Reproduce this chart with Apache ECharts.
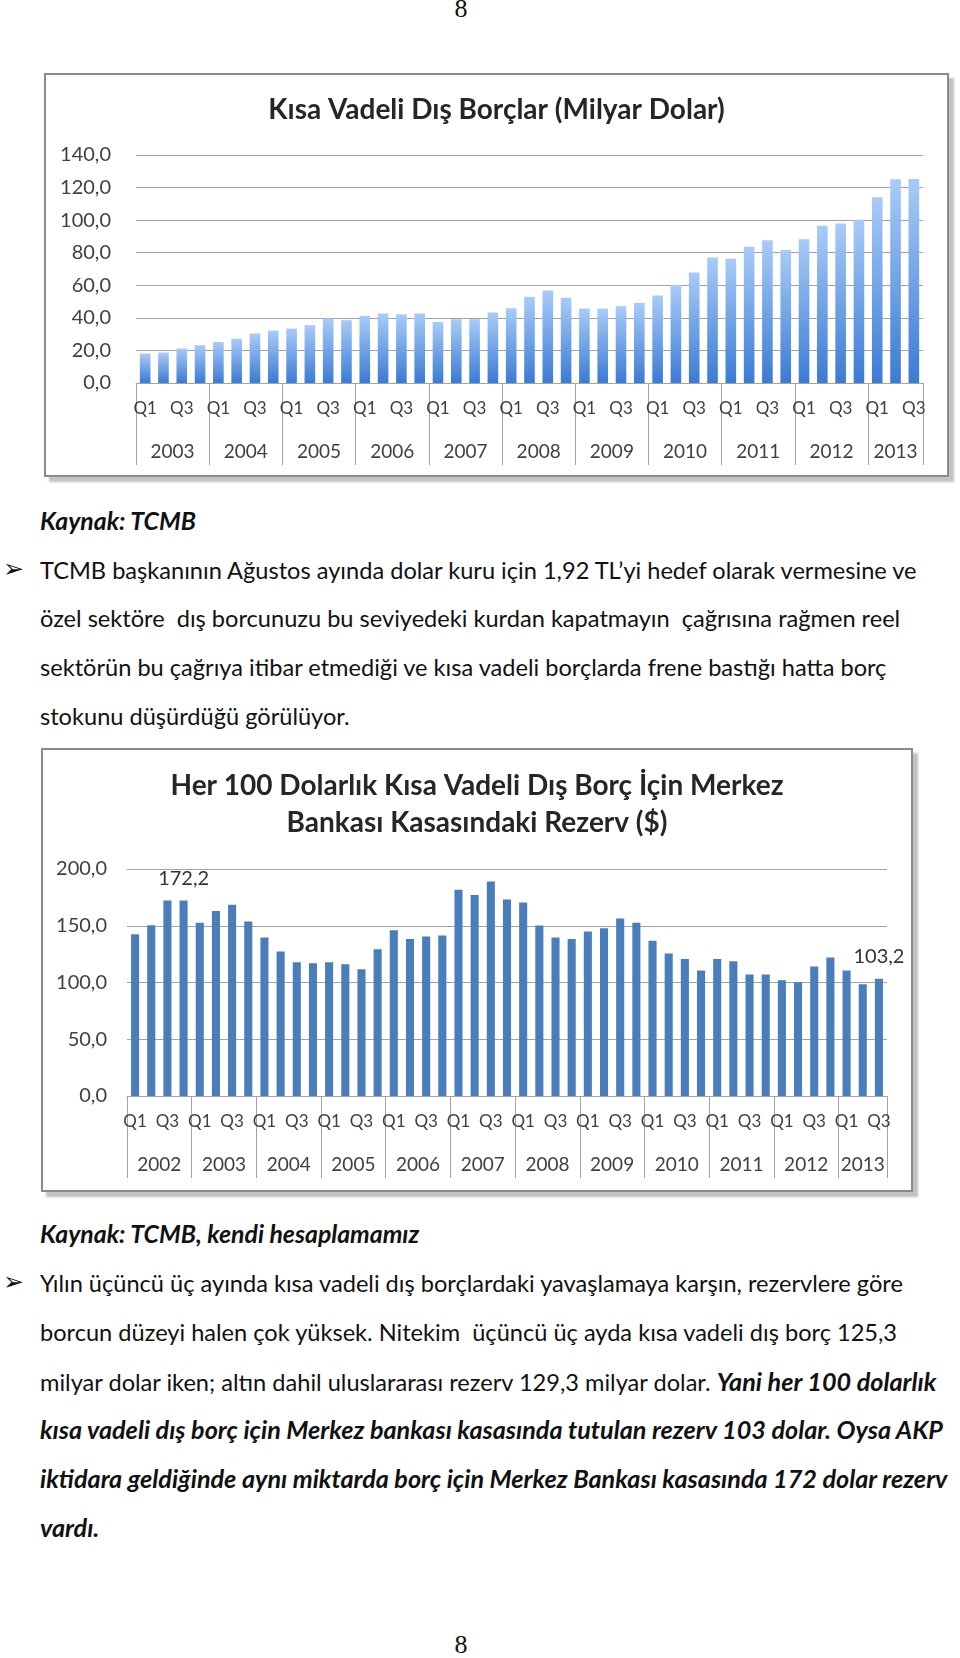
<!DOCTYPE html>
<html lang="tr">
<head>
<meta charset="utf-8">
<title>Kısa Vadeli Dış Borçlar</title>
<script src="https://cdn.jsdelivr.net/npm/echarts@6/dist/echarts.min.js"></script>
<style>
  html, body { margin: 0; padding: 0; background: #fff; }
  .page { position: relative; width: 960px; height: 1658px; overflow: hidden; font-family: Lato, "Noto Sans", sans-serif; color: #111; }
  .pno { position: absolute; left: 0; width: 922px; text-align: center; font-family: "Liberation Serif", "DejaVu Serif", serif; font-size: 26px; line-height: 30px; }
  .line { position: absolute; left: 40px; white-space: nowrap; font-size: 23.6px; line-height: 30px; }
  .src { font-weight: bold; font-style: italic; font-size: 24.8px; }
  .bi { font-weight: bold; font-style: italic; font-size: 25.2px; }
  .bullet { position: absolute; left: 3px; font-family: "DejaVu Sans", sans-serif; font-size: 25px; line-height: 30px; }
  .frame { position: absolute; box-sizing: border-box; border: 2px solid #8a8a8a; background: #fff;
           box-shadow: 5px 5px 2px rgba(120, 120, 120, 0.45); }
  .frame > div { width: 100%; height: 100%; }
</style>
</head>
<body>
<div class="page">
  <div class="pno" style="top:-6px">8</div>

  <div class="frame" style="left:44px; top:73px; width:905px; height:404px"><div id="debt"></div></div>

  <div class="line src" style="top:506px">Kaynak: TCMB</div>
  <div class="bullet" style="top:554px">➢</div>
  <div class="line" style="top:555px">TCMB başkanının Ağustos ayında dolar kuru için 1,92 TL’yi hedef olarak vermesine ve</div>
  <div class="line" style="top:603px">özel sektöre &nbsp;dış borcunuzu bu seviyedeki kurdan kapatmayın &nbsp;çağrısına rağmen reel</div>
  <div class="line" style="top:652px">sektörün bu çağrıya itibar etmediği ve kısa vadeli borçlarda frene bastığı hatta borç</div>
  <div class="line" style="top:701px">stokunu düşürdüğü görülüyor.</div>

  <div class="frame" style="left:41px; top:748px; width:872px; height:444px"><div id="reserve"></div></div>

  <div class="line src" style="top:1219px">Kaynak: TCMB, kendi hesaplamamız</div>
  <div class="bullet" style="top:1267px">➢</div>
  <div class="line" style="top:1268px">Yılın üçüncü üç ayında kısa vadeli dış borçlardaki yavaşlamaya karşın, rezervlere göre</div>
  <div class="line" style="top:1317px">borcun düzeyi halen çok yüksek. Nitekim &nbsp;üçüncü üç ayda kısa vadeli dış borç 125,3</div>
  <div class="line" style="top:1366px">milyar dolar iken; altın dahil uluslararası rezerv 129,3 milyar dolar. <span class="bi">Yani her 100 dolarlık</span></div>
  <div class="line bi" style="top:1414px">kısa vadeli dış borç için Merkez bankası kasasında tutulan rezerv 103 dolar. Oysa AKP</div>
  <div class="line bi" style="top:1463px">iktidara geldiğinde aynı miktarda borç için Merkez Bankası kasasında 172 dolar rezerv</div>
  <div class="line bi" style="top:1512px">vardı.</div>

  <div class="pno" style="top:1630px">8</div>
</div>

<script>
// Kısa vadeli dış borçlar (milyar dolar), 2003Q1 - 2013Q3
const debtYears = ['2003', '2004', '2005', '2006', '2007', '2008', '2009', '2010', '2011', '2012', '2013']
const debtValues = [
  18.1, 18.7, 21.2, 23.2,
  25.2, 27.1, 30.4, 32.2,
  33.4, 35.5, 39.6, 38.6,
  41.2, 42.7, 42.1, 42.7,
  37.5, 39.2, 39.2, 43.3,
  45.9, 52.9, 56.8, 52.3,
  45.7, 45.7, 47.2, 49.2,
  53.7, 60.1, 67.9, 77.1,
  76.3, 83.6, 87.6, 81.6,
  88.2, 96.6, 98.0, 100.3,
  114.0, 125.1, 125.3
]
const debtTicks = [0, 20, 40, 60, 80, 100, 120, 140]

// Her 100 dolarlık kısa vadeli borç için rezerv ($), 2002Q1 - 2013Q3
const reserveYears = ['2002', '2003', '2004', '2005', '2006', '2007', '2008', '2009', '2010', '2011', '2012', '2013']
const reserveValues = [
  142.6, 150.5, 172.2, 172.2,
  152.6, 162.9, 168.4, 153.7,
  139.6, 127.3, 117.9, 117.0,
  117.9, 116.1, 111.7, 129.4,
  146.1, 138.4, 140.5, 141.4,
  181.7, 177.0, 189.0, 173.1,
  170.5, 150.2, 139.6, 138.4,
  144.9, 147.9, 156.4, 152.6,
  136.7, 125.5, 120.8, 110.5,
  120.8, 118.8, 107.0, 107.0,
  102.0, 100.3, 114.0, 122.0,
  110.5, 98.5, 103.2
]
const reserveTicks = [0, 50, 100, 150, 200]
const reserveLabeled = [3, 46]   // 172,2 ve 103,2 etiketleri

const quarterNames = ['Q1', 'Q2', 'Q3', 'Q4']
const txt = '#404040'
const grid = '#a3a3a3'

function fmt(v) {
  return v.toFixed(1).replace('.', ',')
}

// yıl x çeyrek kategorileri
function buildCats(years, total) {
  const cats = []
  const starts = []
  const centers = []
  years.forEach((y) => {
    const n = Math.min(4, total - cats.length)
    starts.push(cats.length)
    centers.push(cats.length + n / 2)
    for (let q = 0; q < n; q++) cats.push(quarterNames[q])
  })
  return { cats, starts, centers }
}

function makeOption(o) {
  const c = buildCats(o.years, o.values.length)
  return {
    animation: false,
    title: {
      text: o.title,
      left: 'center',
      top: o.titleTop,
      padding: 0,
      textStyle: { fontFamily: 'Lato', fontWeight: 'bold', fontSize: 28, lineHeight: 37, color: '#262626' },
    },
    grid: o.grid,
    xAxis: [
      {
        type: 'category',
        data: c.cats,
        axisLine: { show: true, lineStyle: { color: grid, width: 1 } },
        // yıl ayraçları
        axisTick: {
          show: true,
          interval: (i) => c.starts.indexOf(i) >= 0,
          length: 82,
          lineStyle: { color: grid, width: 1 },
        },
        axisLabel: {
          interval: (i) => i % 2 === 0,
          margin: 17,
          color: txt,
          fontFamily: 'Lato',
          fontSize: 17,
        },
      },
      {
        // yıl etiketleri, grup ortasında
        type: 'value',
        position: 'bottom',
        min: 0,
        max: c.cats.length,
        interval: 0.5,
        axisLine: { show: false },
        axisTick: { show: false },
        splitLine: { show: false },
        axisLabel: {
          margin: 59,
          color: txt,
          fontFamily: 'Lato',
          fontSize: 19,
          showMinLabel: true,
          showMaxLabel: true,
          formatter: (v) => {
            const k = c.centers.findIndex((m) => Math.abs(m - v) < 0.01)
            return k >= 0 ? o.years[k] : ''
          },
        },
      },
    ],
    yAxis: {
      type: 'value',
      min: o.ticks[0],
      max: o.ticks[o.ticks.length - 1],
      interval: o.ticks[1] - o.ticks[0],
      axisLine: { show: false },
      axisTick: { show: false },
      splitLine: { lineStyle: { color: grid, width: 1 } },
      axisLabel: { margin: o.yMargin, color: txt, fontFamily: 'Lato', fontSize: 20, formatter: fmt },
    },
    series: [
      {
        type: 'bar',
        xAxisIndex: 0,
        barCategoryGap: o.gap,
        data: o.values.map((v, i) => ({
          value: v,
          label: { show: (o.labeled || []).indexOf(i) >= 0 },
        })),
        itemStyle: { color: o.color },
        label: {
          show: false,
          position: 'top',
          distance: 12,
          color: '#333',
          fontFamily: 'Lato',
          fontSize: 20,
          formatter: (p) => fmt(p.value),
        },
      },
    ],
  }
}

const debtChart = echarts.init(document.getElementById('debt'))
debtChart.setOption(makeOption({
  title: 'Kısa Vadeli Dış Borçlar (Milyar Dolar)',
  titleTop: 16,
  years: debtYears,
  values: debtValues,
  ticks: debtTicks,
  grid: { left: 90, right: 24, top: 80, bottom: 92 },
  yMargin: 25,
  gap: '42%',
  color: {
    type: 'linear', x: 0, y: 0, x2: 0, y2: 1,
    colorStops: [
      { offset: 0, color: '#a9cbf8' },
      { offset: 1, color: '#3a7bd4' },
    ],
  },
}))

const reserveChart = echarts.init(document.getElementById('reserve'))
reserveChart.setOption(makeOption({
  title: 'Her 100 Dolarlık Kısa Vadeli Dış Borç İçin Merkez\nBankası Kasasındaki Rezerv ($)',
  titleTop: 17,
  years: reserveYears,
  values: reserveValues,
  ticks: reserveTicks,
  labeled: reserveLabeled,
  grid: { left: 84, right: 24, top: 119, bottom: 94 },
  yMargin: 20,
  gap: '50%',
  color: '#4a7ebb',
}))
</script>
</body>
</html>
